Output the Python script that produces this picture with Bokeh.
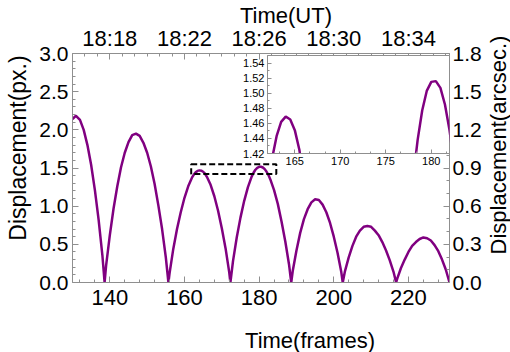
import math
import numpy as np
from bokeh.plotting import figure
from bokeh.models import (Range1d, LinearAxis, SingleIntervalTicker, FixedTicker,
                          NumeralTickFormatter, GridBox, Div)
from bokeh.embed import file_html
from bokeh.resources import INLINE

# ---------------- data ----------------
frames = [130, 130.8, 131, 132, 133, 134, 135, 136, 137, 138, 138.6,
          139, 140, 141, 142, 143, 144, 145, 146, 147, 148, 149, 150, 151, 152, 153, 154, 155, 155.7,
          156, 157, 158, 159, 160, 161, 162, 162.5, 163, 163.5, 164, 164.5, 165, 165.5, 166,
          167, 168, 169, 170, 171, 172, 172.3,
          173, 174, 175, 176, 177, 178, 178.5, 179, 179.5, 180, 180.5, 181, 181.5, 182, 182.5,
          183, 184, 185, 186, 187, 188, 188.6,
          189, 190, 191, 192, 193, 194, 195, 196, 197, 198, 199, 200, 201, 202, 202.4,
          203, 204, 205, 206, 207, 208, 209, 210, 211, 212, 213, 214, 215, 216, 216.7,
          217, 218, 219, 220, 221, 222, 223, 224, 225, 226, 227, 228, 229, 230, 231]
disp_px = [2.14, 2.18, 2.18, 2.13, 2.00, 1.80, 1.54, 1.21, 0.82, 0.36, 0.0,
           0.22, 0.62, 0.97, 1.26, 1.51, 1.70, 1.84, 1.93, 1.95, 1.92, 1.83, 1.70, 1.52, 1.29, 1.01, 0.70, 0.33, 0.0,
           0.12, 0.44, 0.70, 0.92, 1.11, 1.26, 1.373, 1.413, 1.443, 1.462, 1.469, 1.465, 1.451, 1.425, 1.385,
           1.28, 1.13, 0.94, 0.71, 0.45, 0.13, 0.0,
           0.28, 0.59, 0.85, 1.07, 1.25, 1.387, 1.438, 1.477, 1.503, 1.515, 1.516, 1.507, 1.485, 1.451, 1.407,
           1.35, 1.21, 1.03, 0.80, 0.54, 0.24, 0.0,
           0.15, 0.42, 0.65, 0.83, 0.96, 1.05, 1.09, 1.08, 1.02, 0.92, 0.78, 0.60, 0.39, 0.14, 0.0,
           0.15, 0.33, 0.48, 0.60, 0.68, 0.73, 0.74, 0.73, 0.68, 0.62, 0.53, 0.42, 0.29, 0.14, 0.0,
           0.05, 0.19, 0.30, 0.40, 0.48, 0.53, 0.57, 0.59, 0.58, 0.55, 0.49, 0.41, 0.30, 0.17, 0.0]

time_ticks = [140, 160, 180, 200, 220]
time_labels = ["18:18", "18:22", "18:26", "18:30", "18:34"]

axis_titles = ["Time(UT)", "Time(frames)", "Displacement(px.)", "Displacement(arcsec.)"]

x_limits = (130, 231)
y_limits_px = (0, 3.0)
y_limits_arcsec = (0, 1.8)

zoom_x = (161.8, 184.6)
zoom_y = (1.42, 1.55)
inset_x = (162, 182)
inset_y = (1.42, 1.55)

W, H = 510, 352
FONT = "Liberation Sans"
AXC = "#8f8f8f"
LINE = "#800080"


def style(ax, tick_fs, tick_standoff, tin=6, mtin=3):
    ax.major_tick_in = tin
    ax.major_tick_out = 0
    ax.minor_tick_in = mtin
    ax.minor_tick_out = 0
    ax.axis_line_color = AXC
    ax.major_tick_line_color = AXC
    ax.minor_tick_line_color = AXC
    ax.major_label_text_font = FONT
    ax.major_label_text_font_size = tick_fs
    ax.major_label_text_color = "black"
    ax.major_label_standoff = tick_standoff


# ---------------- main figure ----------------
p = figure(width=W, height=H, output_backend="svg", toolbar_location=None,
           x_range=Range1d(*x_limits), y_range=Range1d(*y_limits_px),
           x_axis_location=None, y_axis_location=None,
           min_border_left=72, min_border_right=61, min_border_top=53, min_border_bottom=70)
p.grid.visible = False
p.outline_line_color = None
p.background_fill_color = "white"
p.border_fill_color = "white"
p.extra_y_ranges = {"arcsec": Range1d(*y_limits_arcsec)}

bottom = LinearAxis(ticker=SingleIntervalTicker(interval=20, num_minor_ticks=5))
style(bottom, "22px", 7)
p.add_layout(bottom, "below")

minor_top = list(np.arange(time_ticks[0] - 20, x_limits[1] + 1, 20 / 6))
top = LinearAxis(ticker=FixedTicker(ticks=time_ticks, minor_ticks=minor_top))
top.major_label_overrides = {t: l for t, l in zip(time_ticks, time_labels)}
style(top, "22px", 3)
p.add_layout(top, "above")

left = LinearAxis(ticker=SingleIntervalTicker(interval=0.5, num_minor_ticks=5),
                  formatter=NumeralTickFormatter(format="0.0"))
style(left, "21px", 4)
p.add_layout(left, "left")

right = LinearAxis(y_range_name="arcsec",
                   ticker=SingleIntervalTicker(interval=0.3, num_minor_ticks=3),
                   formatter=NumeralTickFormatter(format="0.0"))
style(right, "21px", 3)
p.add_layout(right, "right")

p.line(frames, disp_px, line_color=LINE, line_width=2.5)
p.quad(left=[zoom_x[0]], right=[zoom_x[1]], bottom=[zoom_y[0]], top=[zoom_y[1]],
       fill_color=None, line_color="black", line_width=2, line_dash="6 3")

# ---------------- inset ----------------
ins = figure(width=220, height=120, output_backend="svg", toolbar_location=None,
             x_range=Range1d(*inset_x), y_range=Range1d(*inset_y),
             x_axis_location=None, y_axis_location=None,
             min_border_left=35, min_border_right=3, min_border_top=2, min_border_bottom=20)
ins.grid.visible = False
ins.outline_line_color = AXC
ins.background_fill_color = "white"
ins.border_fill_color = None

ib = LinearAxis(ticker=SingleIntervalTicker(interval=5, num_minor_ticks=3))
style(ib, "11px", 3, tin=4, mtin=2)
ins.add_layout(ib, "below")
il = LinearAxis(ticker=SingleIntervalTicker(interval=0.02, num_minor_ticks=2),
                formatter=NumeralTickFormatter(format="0.00"))
style(il, "11px", 3, tin=4, mtin=2)
ins.add_layout(il, "left")

ins.line(frames, disp_px, line_color=LINE, line_width=2.5)

# ---------------- axis titles (off-centre, as in the reference) ----------------
title_x = [281, 305, 13, 494]          # centre, px from left
title_y = [11, 336, 143, 140]          # centre, px from top
title_rot = [0, 0, -90, -90]
title_size = [22, 22, 23, 22]
spans = []
for t, x, y, r, s in zip(axis_titles, title_x, title_y, title_rot, title_size):
    spans.append(
        f'<span style="position:absolute;left:{x}px;top:{y}px;white-space:nowrap;'
        f'font-family:\'{FONT}\';font-size:{s}px;line-height:1;color:black;'
        f'transform:translate(-50%,-50%) rotate({r}deg);">{t}</span>')
titles = Div(text="".join(spans), width=W, height=H,
             styles={"position": "relative", "pointer-events": "none"})

layout = GridBox(children=[(p, 0, 0, 3, 3), (ins, 1, 1), (titles, 0, 0, 3, 3)],
                 rows=["53px", "120px", "179px"], cols=["232px", "220px", "58px"])

open("out.html", "w").write(file_html(layout, INLINE))
